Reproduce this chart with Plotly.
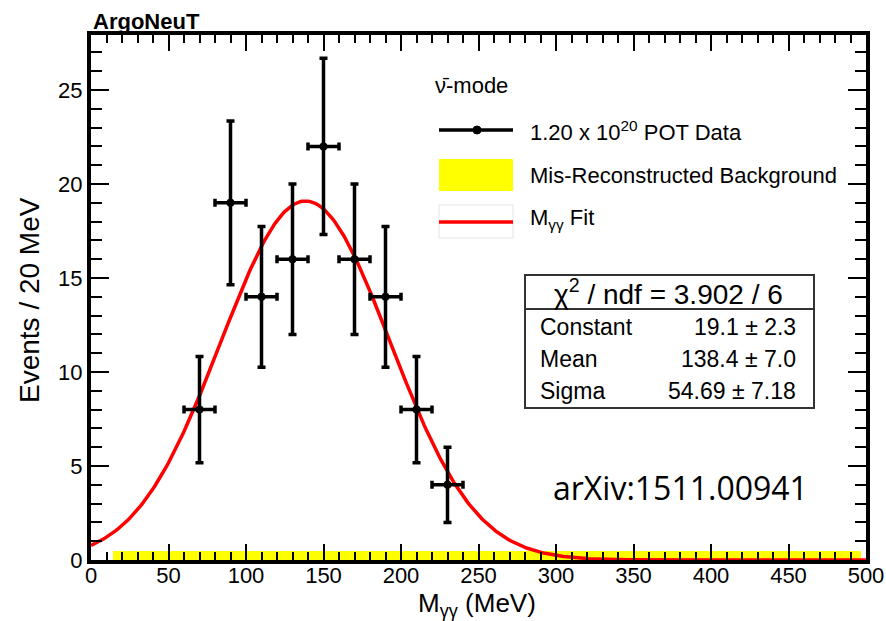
import numpy as np
import plotly.graph_objects as go

# ---------------- data ----------------
bin_centers = [70, 90, 110, 130, 150, 170, 190, 210, 230]   # MeV
counts      = [8, 19, 14, 16, 22, 16, 14, 8, 4]
count_err   = [2.83, 4.36, 3.74, 4.0, 4.69, 4.0, 3.74, 2.83, 2.0]
bin_half_w  = 10

# Gaussian fit parameters (from the stats box)
fit_const = 19.1
fit_mean = 138.4
fit_sigma = 54.69

# mis-reconstructed background band
bkg_x_lo, bkg_x_hi = 14, 497
bkg_level = 0.48

x_tick_vals = [0, 50, 100, 150, 200, 250, 300, 350, 400, 450, 500]
y_tick_vals = [0, 5, 10, 15, 20, 25]

stats_rows = [("Constant", "19.1 ± 2.3"), ("Mean", "138.4 ± 7.0"), ("Sigma", "54.69 ± 7.18")]

# ---------------- geometry helpers ----------------
W, H = 886, 621
ML, MR, MT, MB = 91, 20, 35, 61
PW, PH = W - ML - MR, H - MT - MB


def PX(x):
    return (x - ML) / PW


def PY(y):
    return (H - MB - y) / PH


FONT = "Liberation Sans"

fig = go.Figure()

# background band
fig.add_trace(go.Bar(
    x=[(bkg_x_lo + bkg_x_hi) / 2], y=[bkg_level], width=[bkg_x_hi - bkg_x_lo],
    marker=dict(color="#ffff00", line=dict(width=0)), hoverinfo="skip", showlegend=False))

# fit curve
xf = np.linspace(0, 500, 501)
yf = fit_const * np.exp(-0.5 * ((xf - fit_mean) / fit_sigma) ** 2)
fig.add_trace(go.Scatter(x=xf, y=yf, mode="lines", line=dict(color="#ff0000", width=3.5),
                         showlegend=False, hoverinfo="skip"))

# data
fig.add_trace(go.Scatter(
    x=bin_centers, y=counts, mode="markers",
    marker=dict(color="black", size=8),
    error_y=dict(type="data", array=count_err, color="black", thickness=3.5, width=4),
    error_x=dict(type="constant", value=bin_half_w, color="black", thickness=3.5, width=4),
    showlegend=False))

axis_common = dict(showline=True, linecolor="black", linewidth=4, mirror="allticks",
                   ticks="inside", tickcolor="black", tickwidth=2,
                   showgrid=False, zeroline=False, automargin=False,
                   tickfont=dict(family=FONT, size=22, color="black"))

fig.update_xaxes(range=[0, 500], tickvals=x_tick_vals, ticklen=16, ticklabelstandoff=-7,
                 minor=dict(ticks="inside", dtick=10, ticklen=8, tickcolor="black", tickwidth=2, showgrid=False),
                 **axis_common)
fig.update_yaxes(range=[0, 27.93], tickvals=y_tick_vals, ticklen=18,
                 minor=dict(ticks="inside", dtick=1, ticklen=11, tickcolor="black", tickwidth=2, showgrid=False),
                 **axis_common)

shapes = []
ann = []

# title
ann.append(dict(text="<b>ArgoNeuT</b>", x=PX(91), y=PY(21), xanchor="left", yanchor="middle",
                font=dict(family=FONT, size=22, color="black")))
# axis titles
ann.append(dict(text="M<sub>γγ</sub> (MeV)", x=PX(477), y=PY(604), xanchor="center", yanchor="middle",
                font=dict(family=FONT, size=26, color="black")))
ann.append(dict(text="Events / 20 MeV", x=PX(29), y=PY(300), xanchor="center", yanchor="middle",
                textangle=-90, font=dict(family=FONT, size=28, color="black")))

# legend
leg_font = dict(family=FONT, size=22, color="black")
ann.append(dict(text="ν\u0304-mode", x=PX(433), y=PY(85), xanchor="left", yanchor="middle", font=leg_font))
ann.append(dict(text="1.20 x 10<sup>20</sup> POT Data", x=PX(528), y=PY(131), xanchor="left", yanchor="middle", font=leg_font))
ann.append(dict(text="Mis-Reconstructed Background", x=PX(528), y=PY(175), xanchor="left", yanchor="middle", font=leg_font))
ann.append(dict(text="M<sub>γγ</sub> Fit", x=PX(528), y=PY(219), xanchor="left", yanchor="middle", font=leg_font))

shapes.append(dict(type="line", xref="paper", yref="paper", x0=PX(439), x1=PX(513), y0=PY(130), y1=PY(130),
                   line=dict(color="black", width=3.5)))
shapes.append(dict(type="circle", xref="paper", yref="paper", x0=PX(473), x1=PX(481), y0=PY(126), y1=PY(134),
                   fillcolor="black", line=dict(color="black", width=1)))
shapes.append(dict(type="rect", xref="paper", yref="paper", x0=PX(439), x1=PX(513), y0=PY(159), y1=PY(191),
                   fillcolor="#ffff00", line=dict(width=0)))
shapes.append(dict(type="rect", xref="paper", yref="paper", x0=PX(439), x1=PX(513), y0=PY(205), y1=PY(238),
                   fillcolor="white", line=dict(color="#e4e4e4", width=1)))
shapes.append(dict(type="line", xref="paper", yref="paper", x0=PX(439), x1=PX(513), y0=PY(222), y1=PY(222),
                   line=dict(color="#ff0000", width=3.5)))

# stats box
shapes.append(dict(type="rect", xref="paper", yref="paper", x0=PX(525), x1=PX(814), y0=PY(275), y1=PY(408),
                   fillcolor="white", line=dict(color="#333333", width=2)))
shapes.append(dict(type="line", xref="paper", yref="paper", x0=PX(525), x1=PX(814), y0=PY(309), y1=PY(309),
                   line=dict(color="#333333", width=2)))
ann.append(dict(text="χ<sup>2</sup> / ndf = 3.902 / 6", x=PX(668), y=PY(292), xanchor="center", yanchor="middle",
                font=dict(family=FONT, size=28, color="black")))
row_y = [327, 359, 391]
for (lab, val), yy in zip(stats_rows, row_y):
    ann.append(dict(text=lab, x=PX(538), y=PY(yy), xanchor="left", yanchor="middle",
                    font=dict(family=FONT, size=23, color="black")))
    ann.append(dict(text=val, x=PX(798), y=PY(yy), xanchor="right", yanchor="middle",
                    font=dict(family=FONT, size=23, color="black")))

# arXiv tag
ann.append(dict(text="arXiv:1511.00941", x=PX(680), y=PY(487), xanchor="center", yanchor="middle",
                font=dict(family="Open Sans", size=32, color="black")))

for a in ann:
    a.update(xref="paper", yref="paper", showarrow=False)

fig.update_layout(width=W, height=H, margin=dict(l=ML, r=MR, t=MT, b=MB),
                  plot_bgcolor="white", paper_bgcolor="white",
                  shapes=shapes, annotations=ann, bargap=0, showlegend=False)

fig.write_html("out.html")
